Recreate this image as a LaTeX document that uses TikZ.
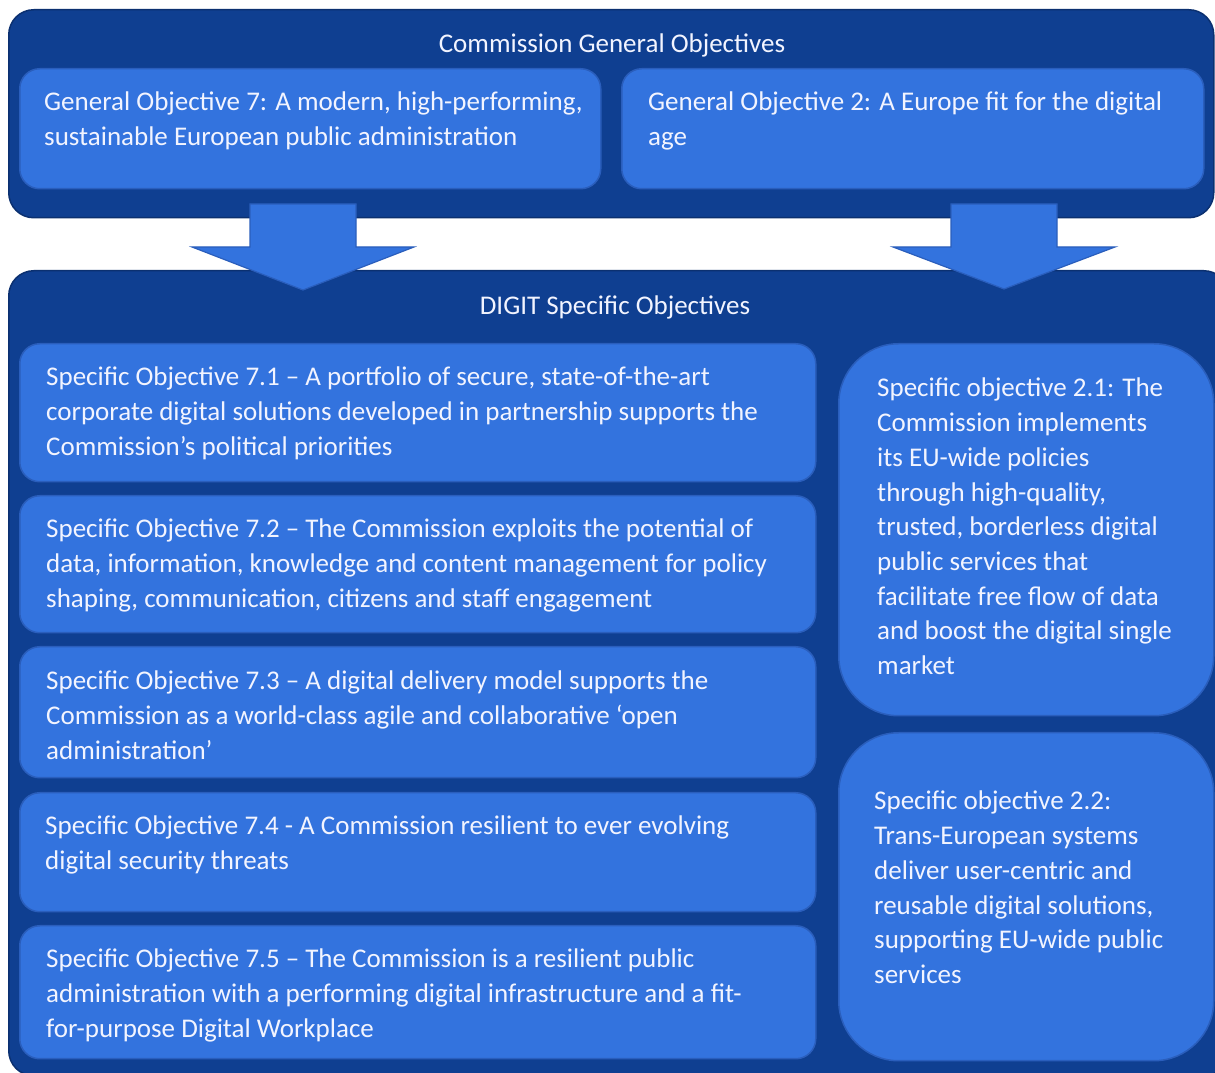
\documentclass[tikz,border=0pt]{standalone}
\usepackage{fontspec}
\setmainfont{Carlito}
\definecolor{navy}{HTML}{0F3F91}
\definecolor{navyedge}{HTML}{0B3070}
\definecolor{lblue}{HTML}{3373DE}
\definecolor{lbedge}{HTML}{2A5EBC}
\definecolor{txt}{HTML}{F2F4FF}
\begin{document}
\begin{tikzpicture}[x=1pt,y=1pt,
  outer/.style={draw=navyedge, line width=1.5pt, fill=navy, rounded corners=25pt, anchor=north west, inner sep=0pt},
  inbox/.style={draw=lbedge, line width=1.5pt, fill=lblue, rounded corners=20pt, anchor=north west, inner sep=0pt},
  bigbox/.style={draw=lbedge, line width=1.5pt, fill=lblue, rounded corners=60pt, anchor=north west, inner sep=0pt},
  txtnode/.style={anchor=north west, inner sep=0pt, align=left, text=txt, font=\fontsize{27}{34.7}\selectfont},
  ttl/.style={anchor=north, inner sep=0pt, text=txt, font=\fontsize{27}{34.7}\selectfont},
  blockarrow/.style={draw=lbedge, line width=1.2pt, fill=lblue, line join=miter}]
\useasboundingbox (0,0) rectangle (1215,1073);
\clip (0,0) rectangle (1215,1073);
% outer panels
\node[outer, minimum width=1205pt, minimum height=208pt] (top) at (8,1064) {};
\node[outer, minimum width=1220pt, minimum height=805pt] (bottom) at (8,803) {};
% block arrows
\draw[blockarrow] (250,869) -- (356,869) -- (356,826) -- (414,826) -- (303,783) -- (192,826) -- (250,826) -- cycle;
\draw[blockarrow] (951,869) -- (1057,869) -- (1057,826) -- (1115,826) -- (1004,784) -- (893,826) -- (951,826) -- cycle;
% titles
\node[ttl] (t1) at (612,1039) {Commission General Objectives};
\node[ttl] (t2) at (615,777) {DIGIT Specific Objectives};
% general objectives
\node[inbox, minimum width=581pt, minimum height=120pt] (go7) at (19,1005) {};
\node[inbox, minimum width=582pt, minimum height=120pt] (go2) at (621,1005) {};
\node[txtnode] (go7t) at (44,981) {General Objective 7: A modern, high-performing,\\sustainable European public administration};
\node[txtnode] (go2t) at (648,981) {General Objective 2: A Europe fit for the digital\\age};
% specific objectives 7.x
\node[inbox, minimum width=796pt, minimum height=138pt] (so71) at (19,730) {};
\node[inbox, minimum width=796pt, minimum height=137pt] (so72) at (19,578) {};
\node[inbox, minimum width=796pt, minimum height=131pt] (so73) at (19,427) {};
\node[inbox, minimum width=796pt, minimum height=119pt] (so74) at (19,281) {};
\node[inbox, minimum width=796pt, minimum height=133pt] (so75) at (19,148) {};
\node[txtnode] (so71t) at (46,706) {Specific Objective 7.1 – A portfolio of secure, state-of-the-art\\corporate digital solutions developed in partnership supports the\\Commission’s political priorities};
\node[txtnode] (so72t) at (46,554) {Specific Objective 7.2 – The Commission exploits the potential of\\data, information, knowledge and content management for policy\\shaping, communication, citizens and staff engagement};
\node[txtnode] (so73t) at (46,402) {Specific Objective 7.3 – A digital delivery model supports the\\Commission as a world-class agile and collaborative ‘open\\administration’};
\node[txtnode] (so74t) at (45,257) {Specific Objective 7.4 - A Commission resilient to ever evolving\\digital security threats};
\node[txtnode] (so75t) at (46,124) {Specific Objective 7.5 – The Commission is a resilient public\\administration with a performing digital infrastructure and a fit-\\for-purpose Digital Workplace};
% specific objectives 2.x
\node[bigbox, minimum width=375pt, minimum height=372pt] (so21) at (838,730) {};
\node[bigbox, minimum width=375pt, minimum height=328pt] (so22) at (838,341) {};
\node[txtnode] (so21t) at (877,695) {Specific objective 2.1: The\\Commission implements\\its EU-wide policies\\through high-quality,\\trusted, borderless digital\\public services that\\facilitate free flow of data\\and boost the digital single\\market};
\node[txtnode] (so22t) at (874,282) {Specific objective 2.2:\\Trans-European systems\\deliver user-centric and\\reusable digital solutions,\\supporting EU-wide public\\services};
\end{tikzpicture}
\end{document}
